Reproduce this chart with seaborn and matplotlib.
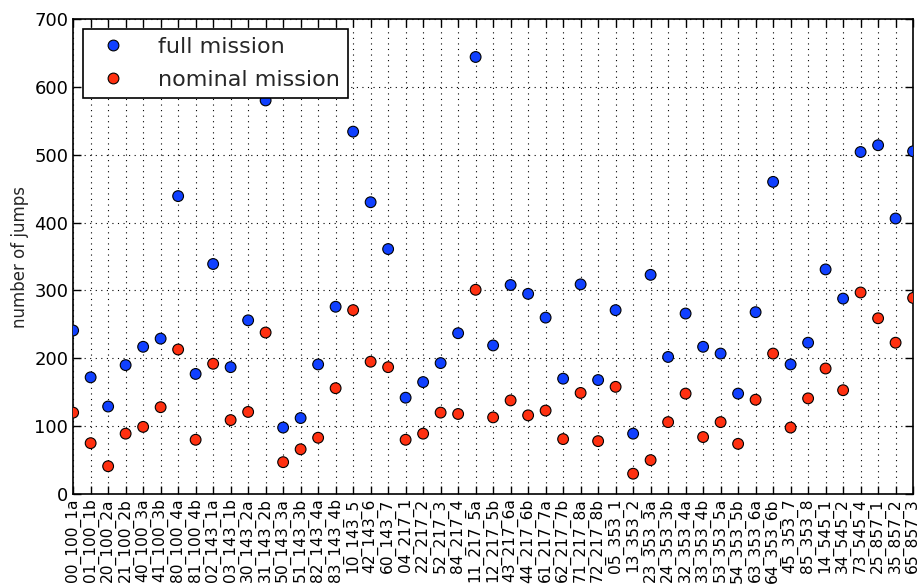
import matplotlib
matplotlib.use("Agg")
import matplotlib.pyplot as plt
import seaborn as sns
import pandas as pd

labels = ["00_100_1a", "01_100_1b", "20_100_2a", "21_100_2b", "40_100_3a", "41_100_3b",
          "80_100_4a", "81_100_4b", "02_143_1a", "03_143_1b", "30_143_2a", "31_143_2b",
          "50_143_3a", "51_143_3b", "82_143_4a", "83_143_4b", "10_143_5", "42_143_6",
          "60_143_7", "04_217_1", "22_217_2", "52_217_3", "84_217_4", "11_217_5a",
          "12_217_5b", "43_217_6a", "44_217_6b", "61_217_7a", "62_217_7b", "71_217_8a",
          "72_217_8b", "05_353_1", "13_353_2", "23_353_3a", "24_353_3b", "32_353_4a",
          "33_353_4b", "53_353_5a", "54_353_5b", "63_353_6a", "64_353_6b", "45_353_7",
          "85_353_8", "14_545_1", "34_545_2", "73_545_4", "25_857_1", "35_857_2", "65_857_3"]

full_mission = [241, 172, 129, 190, 217, 229, 439, 177, 339, 187, 256, 580, 98, 112, 191, 276,
                534, 430, 361, 142, 165, 193, 237, 644, 219, 308, 295, 260, 170, 309, 168, 271,
                89, 323, 202, 266, 217, 207, 148, 268, 460, 191, 223, 331, 288, 504, 514, 406, 505]

nominal_mission = [120, 75, 41, 89, 99, 128, 213, 80, 192, 109, 121, 238, 47, 66, 83, 156,
                   271, 195, 187, 80, 89, 120, 118, 301, 113, 138, 116, 123, 81, 149, 78, 158,
                   30, 50, 106, 148, 84, 106, 74, 139, 207, 98, 141, 185, 153, 297, 259, 223, 289]

series_names = ["full mission", "nominal mission"]
colors = ["#1040ff", "#ff3010"]

rows = []
for i, lab in enumerate(labels):
    rows.append({"idx": i, "label": lab, "jumps": full_mission[i], "series": series_names[0]})
for i, lab in enumerate(labels):
    rows.append({"idx": i, "label": lab, "jumps": nominal_mission[i], "series": series_names[1]})
df = pd.DataFrame(rows)

sns.set_style("ticks")
plt.rcParams["font.family"] = ["DejaVu Sans"]

fig = plt.figure(figsize=(9.2, 5.84), dpi=100)
ax = fig.add_axes([0.0795, 0.154, 0.913, 0.8135])

sns.scatterplot(data=df, x="idx", y="jumps", hue="series", palette=colors,
                s=60, edgecolor="black", linewidth=0.8, ax=ax, zorder=3)

ax.set_xlim(0, len(labels) - 1)
ax.set_ylim(0, 700)
ax.set_xticks(range(len(labels)))
ax.set_xticklabels(labels, rotation=90, fontsize=11.2)
ax.set_yticks(range(0, 701, 100))
ax.tick_params(axis="y", labelsize=13)
ax.tick_params(direction="in", top=True, right=True, length=6, width=1, colors="black")
ax.tick_params(axis="x", pad=3)
ax.set_xlabel("")
ax.set_ylabel("number of jumps", fontsize=12)
ax.grid(True, linestyle=(0, (1, 4)), color="black", linewidth=0.8)
for sp in ax.spines.values():
    sp.set_visible(True)
    sp.set_color("black")
    sp.set_linewidth(1.2)

leg = ax.legend(loc="upper left", fontsize=16, frameon=True, fancybox=False,
                borderaxespad=0.45, handletextpad=1.0, markerscale=1.0,
                borderpad=0.36, labelspacing=0.57)
leg.get_frame().set_edgecolor("black")
leg.get_frame().set_linewidth(1.2)
leg.get_frame().set_alpha(1)

fig.savefig("out.png", dpi=100)
